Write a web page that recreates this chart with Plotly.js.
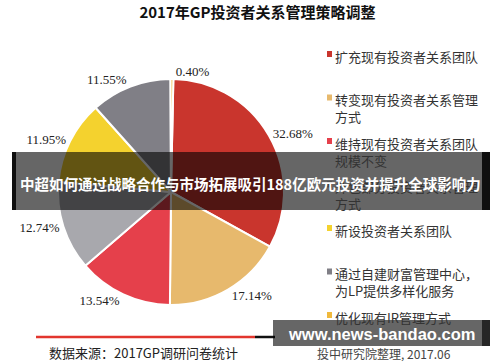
<!DOCTYPE html>
<html><head><meta charset="utf-8">
<script src="https://cdn.plot.ly/plotly-3.0.1.min.js"></script>
<style>html,body{margin:0;padding:0;background:#fff}#chart{width:500px;height:362px}</style>
</head><body><div id="chart"></div>
<script>
const categories = ['扩充现有投资者关系团队', '转变现有投资者关系管理方式', '维持现有投资者关系团队规模不变', '外包部分投资者关系管理方式', '新设投资者关系团队', '通过自建财富管理中心，为LP提供多样化服务', '优化现有IR管理方式'];
const legendLabels = ['扩充现有投资者关系团队', '转变现有投资者关系管理<br>方式', '维持现有投资者关系团队<br>规模不变', '外包部分投资者关系管理<br>方式', '新设投资者关系团队', '通过自建财富管理中心，<br>为LP提供多样化服务', '优化现有IR管理方式'];
const shares = [32.68, 17.14, 13.54, 12.74, 11.95, 11.55, 0.40];
const sliceColors = ['#c9352d', '#e7b96d', '#e5404b', '#a8a8ad', '#f4d22e', '#807f86', '#f0b93c'];
const chartTitle = '2017年GP投资者关系管理策略调整';
const sourceNote = '数据来源：2017GP调研问卷统计';
const creditNote = '投中研究院整理, 2017.06';
const bannerText = '中超如何通过战略合作与市场拓展吸引188亿欧元投资并提升全球影响力';
const watermarkText = 'www.news-bandao.com';

const W = 500, H = 362;
const px = x => x / W, py = y => 1 - y / H;
const cx = 171, cy = 192, r = 113;
const CJK = 'Noto Sans CJK SC, sans-serif';

const trace = {
  type: 'pie', labels: categories, values: shares, sort: false,
  direction: 'clockwise', rotation: 1.2,
  marker: {colors: sliceColors, line: {color: '#ffffff', width: 2}},
  texttemplate: '%{value:.2f}%', textposition: 'outside',
  textfont: {family: 'Liberation Serif, serif', size: 13, color: '#222'},
  domain: {x: [px(cx - r), px(cx + r)], y: [py(cy + r), py(cy - r)]},
  showlegend: false, hoverinfo: 'label+percent'
};

const shapes = [];
const annotations = [];
function rect(x0, y0, x1, y1, fill) {
  shapes.push({type: 'rect', xref: 'paper', yref: 'paper', x0: px(x0), x1: px(x1), y0: py(y1), y1: py(y0),
    fillcolor: fill, line: {width: 0}, layer: 'above'});
}
// legend
legendLabels.forEach((lab, i) => {
  const ly = 54 + 43.5 * i;
  rect(327, ly - 3, 332, ly + 3, sliceColors[i]);
  annotations.push({xref: 'paper', yref: 'paper', x: px(333), y: py(ly - 9.5), xanchor: 'left', yanchor: 'top',
    align: 'left', showarrow: false, text: lab, font: {family: CJK, size: 13, color: '#333'}});
});
// bottom rule
shapes.push({type: 'line', xref: 'paper', yref: 'paper', x0: px(36), x1: px(255), y0: py(337), y1: py(337), line: {color: '#e2362e', width: 2.5}, layer: 'above'});
shapes.push({type: 'line', xref: 'paper', yref: 'paper', x0: px(255), x1: px(275), y0: py(337), y1: py(337), line: {color: '#111', width: 2.5}, layer: 'above'});
annotations.push({xref: 'paper', yref: 'paper', x: px(47), y: py(352), xanchor: 'left', yanchor: 'middle', showarrow: false,
  text: sourceNote, font: {family: CJK, size: 13, color: '#222'}});
annotations.push({xref: 'paper', yref: 'paper', x: px(315), y: py(353), xanchor: 'left', yanchor: 'middle', showarrow: false,
  text: creditNote, font: {family: CJK, size: 12, color: '#444'}});
// banner overlay
rect(12, 152, 490, 210, 'rgba(0,0,0,0.6)');
rect(12, 152, 16, 210, 'rgba(0,0,0,0.85)');
rect(482, 152, 490, 210, 'rgba(0,0,0,0.85)');
annotations.push({xref: 'paper', yref: 'paper', x: px(250), y: py(183), xanchor: 'center', yanchor: 'middle', showarrow: false,
  text: '<b>' + bannerText + '</b>', font: {family: CJK, size: 14.5, color: '#fff'}});
// watermark
rect(273, 320, 482, 346, 'rgba(0,0,0,0.6)');
rect(482, 320, 490, 346, 'rgba(0,0,0,0.85)');
annotations.push({xref: 'paper', yref: 'paper', x: px(381), y: py(334), xanchor: 'center', yanchor: 'middle', showarrow: false,
  text: '<b>' + watermarkText + '</b>', font: {family: 'Liberation Sans, Arial, sans-serif', size: 16.5, color: '#fff'}});

const layout = {
  width: W, height: H, margin: {l: 0, r: 0, t: 0, b: 0},
  paper_bgcolor: '#fff', plot_bgcolor: '#fff', showlegend: false,
  title: {text: '<b>' + chartTitle + '</b>', x: 0.515, xanchor: 'center', y: 1 - 13 / H, yanchor: 'middle',
    yref: 'container', font: {family: CJK, size: 15, color: '#111'}},
  shapes: shapes, annotations: annotations
};
Plotly.newPlot('chart', [trace], layout, {displayModeBar: false, staticPlot: true});
</script></body></html>
